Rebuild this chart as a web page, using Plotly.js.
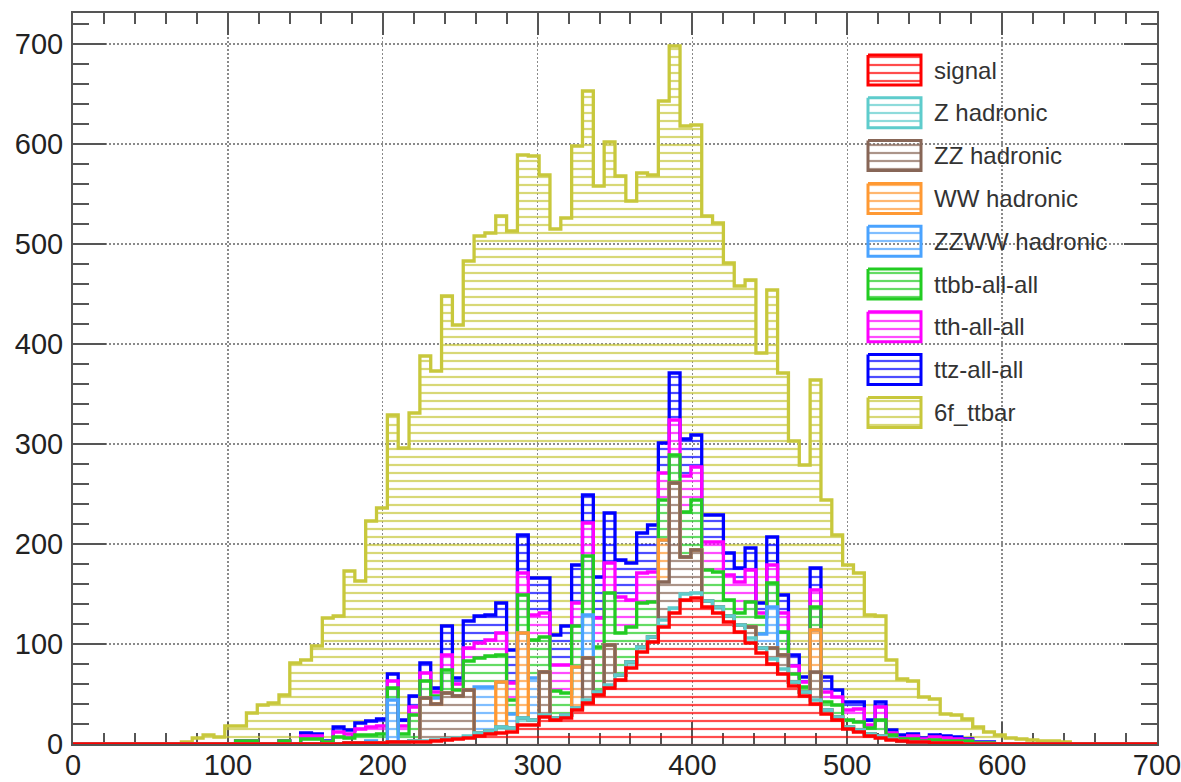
<!DOCTYPE html>
<html><head><meta charset="utf-8">
<script src="https://cdn.plot.ly/plotly-3.0.1.min.js"></script>
<style>html,body{margin:0;padding:0;background:#fff}#chart{width:1181px;height:782px}</style>
</head><body><div id="chart"></div>
<script>
// Histogram binning: 100 bins of width 7 from 0 to 700
const binWidth = 7;
const nBins = 100;
const firstBin = 10; // the arrays below list bins 10..91; all other bins are empty

const seriesNames = ['signal','Z hadronic','ZZ hadronic','WW hadronic','ZZWW hadronic','ttbb-all-all','tth-all-all','ttz-all-all','6f_ttbar'];
const seriesColors = ['#ff0000','#5ecccc','#876657','#ff9933','#4aa3ff','#22cc22','#ff00ff','#0000ff','#c8c83c'];

// per-bin counts, bins 10..91
const signal = [
 0,0,0,0,0,0,0,0,0,0,
 0,0,0,0,0,1,1,1,1,2,
 2,2,2,3,4,5,6,8,10,11,
 12,19,19,27,24,26,34,41,49,56,
 64,76,92,102,117,131,144,146,137,131,
 122,112,101,91,80,70,58,48,40,30,
 24,15,12,8,6,4,3,2,2,1,
 1,1,0,0,0,0,0,0,0,0,
 0,0];
const zHadronic = [
 0,0,0,0,0,0,0,0,0,0,
 0,0,0,0,0,0,0,0,0,0,
 0,1,1,1,1,1,2,3,3,6,
 4,7,5,2,2,3,2,3,3,3,
 5,6,5,5,7,5,6,5,6,6,
 6,7,5,5,5,5,4,4,4,4,
 3,2,2,2,2,1,0,0,0,0,
 0,0,0,0,0,0,0,0,0,0,
 0,0];
const zzHadronic = [
 0,0,0,0,0,0,0,0,0,0,
 0,0,0,0,0,0,0,0,0,0,
 0,0,43,36,46,42,46,0,0,0,
 0,0,0,43,0,0,0,42,0,40,
 0,0,0,0,38,125,37,43,0,0,
 0,0,11,0,11,14,0,0,28,0,
 0,0,0,0,0,0,0,0,0,0,
 0,0,0,0,0,0,0,0,0,0,
 0,0];
const wwHadronic = [
 0,0,0,0,0,0,0,0,0,0,
 0,0,0,0,0,0,0,0,0,0,
 0,0,0,0,0,0,0,0,0,45,
 0,85,0,0,0,0,41,0,0,0,
 0,0,0,0,42,0,0,0,0,0,
 0,0,0,0,0,0,0,0,42,0,
 0,0,0,0,0,0,0,0,0,0,
 0,0,0,0,0,0,0,0,0,0,
 0,0];
const zzwwHadronic = [
 0,0,0,0,0,0,0,0,0,0,
 0,0,0,0,0,0,0,2,0,42,
 0,0,0,6,0,0,0,46,44,0,
 14,0,42,0,0,0,0,43,0,0,
 0,0,0,0,0,0,0,0,0,0,
 0,0,0,14,41,0,0,0,0,0,
 0,0,0,0,0,0,0,0,0,0,
 0,0,0,0,0,0,0,0,0,0,
 0,0];
const ttbb = [
 0,0,0,0,0,3,3,0,0,3,
 0,5,5,2,7,5,8,6,9,12,
 8,26,17,2,23,6,29,29,31,27,
 14,38,38,35,27,22,41,59,45,52,
 42,35,44,35,40,28,45,50,31,35,
 16,12,25,17,24,23,8,5,23,8,
 12,7,8,6,16,4,2,3,1,3,
 2,2,3,1,1,0,0,0,0,0,
 0,0];
const tth = [
 0,0,0,0,0,0,0,0,0,0,
 0,3,3,0,5,4,6,8,8,7,
 8,8,8,4,15,6,13,15,16,22,
 17,22,25,24,26,28,23,33,29,30,
 36,27,30,30,27,35,36,33,28,30,
 25,31,32,4,18,19,8,5,17,10,
 8,10,13,3,13,2,1,3,2,3,
 3,2,1,0,0,0,0,0,0,0,
 0,0];
const ttz = [
 0,0,0,0,0,0,0,0,0,0,
 0,3,2,1,5,4,6,6,7,7,
 6,11,10,4,29,6,27,27,25,30,
 33,38,37,35,30,39,38,28,41,50,
 37,37,40,47,30,47,37,32,27,27,
 22,14,22,10,28,18,11,5,22,15,
 7,8,7,5,5,3,3,2,1,2,
 2,2,1,1,1,0,0,0,0,0,
 0,0];
const ttbar6f = [
 2,6,9,7,18,15,28,39,41,46,
 81,73,88,123,111,159,142,200,211,259,
 272,283,307,317,330,353,360,380,382,387,
 419,380,422,403,406,408,419,404,391,371,
 384,362,360,350,342,327,313,310,299,292,
 290,282,268,250,247,222,214,212,188,177,
 155,137,129,105,86,70,56,53,41,36,
 22,22,20,15,10,9,6,5,4,3,
 3,2];

const seriesValues = [signal,zHadronic,zzHadronic,wwHadronic,zzwwHadronic,ttbb,tth,ttz,ttbar6f];

function pad(arr){
  const full = new Array(nBins).fill(0);
  arr.forEach((v,i)=>{ full[firstBin+i] = v; });
  return full;
}
const edges = [];
for(let i=0;i<=nBins;i++) edges.push(i*binWidth);

// stacked (cumulative) levels, like a THStack
const cumulative = [];
let running = new Array(nBins).fill(0);
seriesValues.forEach(s=>{
  const p = pad(s);
  running = running.map((v,i)=>v+p[i]);
  cumulative.push(running.slice());
});
function stepY(arr){ return arr.concat([arr[arr.length-1]]); }

const hatch = c => ({shape:'-', size:8, solidity:0.28, fgcolor:c, fgopacity:0.7, bgcolor:'rgba(0,0,0,0)'});

const traces = [];
// hatched fills, bottom to top
cumulative.forEach((cum,k)=>{
  traces.push({
    x: edges, y: stepY(cum), type:'scatter', mode:'lines',
    line:{shape:'hv', width:0, color:seriesColors[k]},
    fill: k===0 ? 'tozeroy' : 'tonexty',
    fillcolor:'rgba(0,0,0,0)',
    fillpattern: hatch(seriesColors[k]),
    hoverinfo:'skip', showlegend:false
  });
});
// outlines, top of the stack first so lower histograms are drawn over
for(let k=cumulative.length-1;k>=0;k--){
  traces.push({
    x: edges, y: stepY(cumulative[k]), type:'scatter', mode:'lines',
    line:{shape:'hv', width:3.3, color:seriesColors[k]},
    name: seriesNames[k], showlegend:false, hoverinfo:'x+y+name'
  });
}

// legend (drawn on an overlay axis measured in page pixels)
const legX0 = 868, legX1 = 921, legY0 = 70, legStep = 42.8, legHalf = 15;
const annotations = [];
seriesNames.forEach((nm,k)=>{
  const cy = legY0 + k*legStep;
  traces.push({
    x:[legX0,legX1,legX1,legX0,legX0], y:[cy-legHalf,cy-legHalf,cy+legHalf,cy+legHalf,cy-legHalf],
    xaxis:'x2', yaxis:'y2', type:'scatter', mode:'lines', fill:'toself',
    fillcolor:'rgba(0,0,0,0)', fillpattern: hatch(seriesColors[k]),
    line:{color:seriesColors[k], width:3}, hoverinfo:'skip', showlegend:false
  });
  annotations.push({x:932, y:cy, xref:'x2', yref:'y2', text:nm, showarrow:false,
    xanchor:'left', yanchor:'middle', font:{family:'Liberation Sans, Arial, sans-serif', size:24, color:'#333'}});
});

const axisFont = {family:'Liberation Sans, Arial, sans-serif', size:29, color:'#222'};
const frameColor = '#555';
const layout = {
  width:1181, height:782,
  margin:{l:73, r:24, t:13, b:38, pad:0},
  paper_bgcolor:'#ffffff', plot_bgcolor:'#ffffff',
  showlegend:false,
  xaxis:{
    range:[0,700], tick0:0, dtick:100, ticks:'inside', ticklen:22, tickwidth:2, tickcolor:frameColor,
    minor:{dtick:20, ticks:'inside', ticklen:11, tickwidth:2, tickcolor:frameColor, showgrid:false},
    showline:true, linecolor:frameColor, linewidth:2, mirror:'allticks',
    showgrid:true, gridcolor:'#8a8a8a', gridwidth:1.5, griddash:'2px,2px',
    zeroline:false, tickfont:axisFont, ticklabelstandoff:-6, ticklabeloverflow:'allow',
    layer:'below traces', fixedrange:true
  },
  yaxis:{
    range:[0,731], tick0:0, dtick:100, ticks:'inside', ticklen:33, tickwidth:2, tickcolor:frameColor,
    minor:{dtick:20, ticks:'inside', ticklen:16, tickwidth:2, tickcolor:frameColor, showgrid:false},
    showline:true, linecolor:frameColor, linewidth:2, mirror:'allticks',
    showgrid:true, gridcolor:'#8a8a8a', gridwidth:1.5, griddash:'2px,2px',
    zeroline:false, tickfont:axisFont, ticklabelstandoff:2, ticklabeloverflow:'allow',
    layer:'below traces', fixedrange:true
  },
  xaxis2:{overlaying:'x', anchor:'y2', range:[73,1157], visible:false, fixedrange:true},
  yaxis2:{overlaying:'y', anchor:'x2', range:[744,13], visible:false, fixedrange:true},
  annotations: annotations
};
Plotly.newPlot('chart', traces, layout, {displayModeBar:false, staticPlot:true});
</script>
</body></html>
